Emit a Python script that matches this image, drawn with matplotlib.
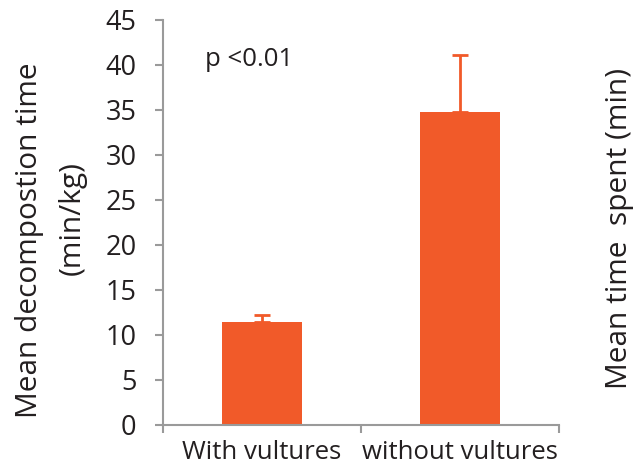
import matplotlib.pyplot as plt
from matplotlib.ticker import FixedLocator

plt.rcParams['font.family'] = ['Open Sans', 'DejaVu Sans']

groups = ['With vultures', 'without vultures']
mean_time = [11.4, 34.8]
err_up = [0.8, 6.3]
bar_col = '#F15A29'
axis_col = '#9A9A9A'

fig = plt.figure(figsize=(6.4, 4.68), dpi=100)
ax = fig.add_axes([0.2547, 0.0919, 0.6187, 0.8654])

x = range(len(groups))
ax.bar(x, mean_time, width=0.4, color=bar_col, zorder=2)
ax.errorbar(x, mean_time, yerr=[[0, 0], err_up], fmt='none',
            ecolor=bar_col, elinewidth=2, capsize=6, capthick=2, zorder=3)

ax.set_xlim(-0.5, 1.5)
ax.set_ylim(0, 45)
ax.set_yticks(range(0, 46, 5))
ax.set_xticks(list(x))
ax.set_xticklabels(groups)
ax.xaxis.set_minor_locator(FixedLocator([-0.5, 0.5, 1.5]))

for s in ['top', 'right']:
    ax.spines[s].set_visible(False)
for s in ['left', 'bottom']:
    ax.spines[s].set_color(axis_col)
    ax.spines[s].set_linewidth(1.5)

ax.tick_params(axis='y', length=6, width=1.5, color=axis_col, pad=13,
               labelsize=19.5, labelcolor='#231F20')
ax.tick_params(axis='x', which='major', length=0, pad=11,
               labelsize=18.5, labelcolor='#231F20')
ax.tick_params(axis='x', which='minor', length=6, width=1.5, color=axis_col)

ax.text(-0.29, 40.6, 'p <0.01', fontsize=18.5, color='#231F20', va='center')

fig.text(30 / 640, 1 - 240 / 468, 'Mean decompostion time', rotation=90,
         ha='center', va='center', fontsize=21.5, color='#231F20')
fig.text(72 / 640, 1 - 218 / 468, '(min/kg)', rotation=90,
         ha='center', va='center', fontsize=21.5, color='#231F20')
fig.text(620 / 640, 1 - 228 / 468, 'Mean time  spent (min)', rotation=90,
         ha='center', va='center', fontsize=21.5, color='#231F20')

fig.savefig('out.png', dpi=100)
